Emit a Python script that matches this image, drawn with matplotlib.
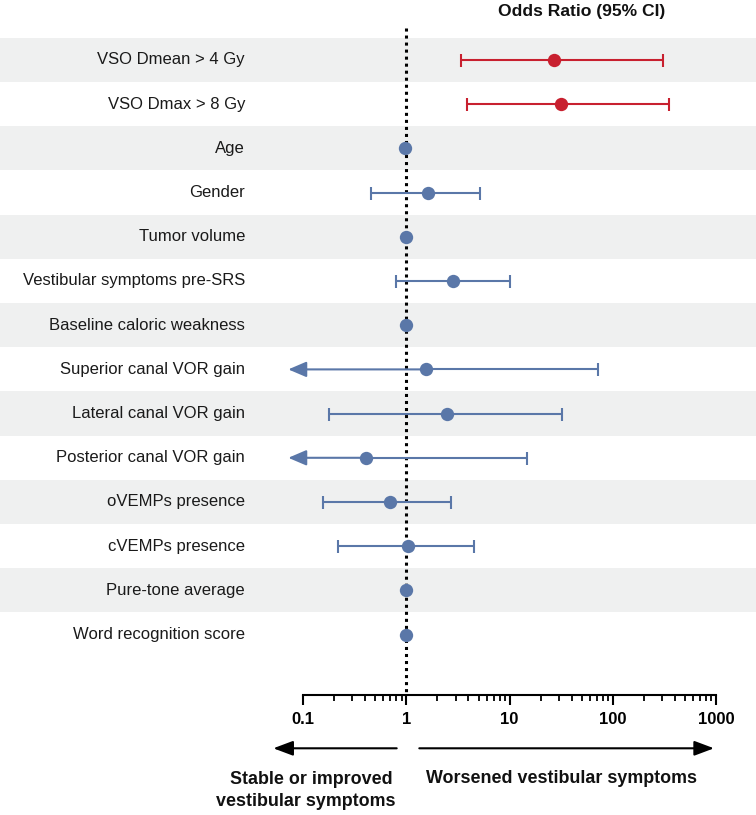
import numpy as np
import matplotlib
matplotlib.use("Agg")
import matplotlib.pyplot as plt
import matplotlib.ticker as mticker
import matplotlib.transforms as mtransforms

plt.rcParams['font.family'] = ['Liberation Sans', 'DejaVu Sans']

labels = ["VSO Dmean > 4 Gy", "VSO Dmax > 8 Gy", "Age", "Gender", "Tumor volume",
          "Vestibular symptoms pre-SRS", "Baseline caloric weakness",
          "Superior canal VOR gain", "Lateral canal VOR gain",
          "Posterior canal VOR gain", "oVEMPs presence", "cVEMPs presence",
          "Pure-tone average", "Word recognition score"]
odds = [26.9, 31.7, 0.98, 1.61, 1.0, 2.83, 1.0, 1.55, 2.46, 0.405, 0.70, 1.05, 1.0, 0.99]
ci_low = [3.38, 3.87, np.nan, 0.455, np.nan, 0.795, np.nan, np.nan, 0.179, np.nan,
          0.157, 0.218, np.nan, np.nan]
ci_high = [303, 349, np.nan, 5.2, np.nan, 10.1, np.nan, 71.8, 31.9, 14.8,
           2.73, 4.55, np.nan, np.nan]
highlight = [True, True] + [False] * 12
tick_vals = [0.1, 1, 10, 100, 1000]
tick_labels = ["0.1", "1", "10", "100", "1000"]

RED = "#C8202F"
BLUE = "#5A77A8"
BAND = "#EFF0F0"

W, H = 756, 815
fig = plt.figure(figsize=(W / 100, H / 100), dpi=100)
ax = fig.add_axes([0, 0, 1, 1])

# pixel mapping helpers (layout only)
x1_px, dec_px = 406.3, 103.3
y0_px, row_px = 60.0, 44.2
def lx(px):
    return 10 ** ((px - x1_px) / dec_px)
def ry(px):
    return (px - y0_px) / row_px

ax.set_xscale('log')
ax.set_xlim(lx(0), lx(W))
ax.set_ylim(ry(H), ry(0))

n = len(labels)
for i in range(n):
    if i % 2 == 0:
        ax.axhspan(i - 0.5, i + 0.5, color=BAND, lw=0, zorder=0)

axis_y = ry(695)
ax.vlines(1, ry(28), axis_y, colors='black', linestyles=(0, (1, 1.3)), lw=2.2, zorder=2)

arrow_tip = lx(288.3)
for i in range(n):
    c = RED if highlight[i] else BLUE
    lo, hi, v = ci_low[i], ci_high[i], odds[i]
    if not np.isnan(hi):
        if np.isnan(lo):
            ax.errorbar([v], [i], xerr=[[0], [hi - v]], fmt='none', ecolor=c,
                        elinewidth=1.5, capsize=6.5 * 0.72, capthick=1.5, zorder=3)
            ax.annotate('', xy=(arrow_tip, i), xytext=(v, i),
                        arrowprops=dict(arrowstyle='-|>,head_length=1.1,head_width=0.47',
                                        color=c, lw=1.5, shrinkA=0, shrinkB=0),
                        zorder=3)
        else:
            ax.errorbar([v], [i], xerr=[[v - lo], [hi - v]], fmt='none', ecolor=c,
                        elinewidth=1.5, capsize=6.5 * 0.72, capthick=1.5, zorder=3)
    ax.plot([v], [i], 'o', color=c, ms=9.6, mec='none', zorder=4)

ylab_tr = mtransforms.blended_transform_factory(ax.transAxes, ax.transData)
for i, lab in enumerate(labels):
    ax.text(245 / W, i, lab, transform=ylab_tr, ha='right', va='center',
            fontsize=12.0, color='#1a1a1a')

# x axis
for s in ['top', 'right', 'left']:
    ax.spines[s].set_visible(False)
ax.spines['bottom'].set_position(('data', axis_y))
ax.spines['bottom'].set_bounds(0.1, 1000)
ax.spines['bottom'].set_linewidth(1.5)
ax.xaxis.set_major_locator(mticker.FixedLocator(tick_vals))
ax.xaxis.set_major_formatter(mticker.FixedFormatter(tick_labels))
minor = [m * d for d in tick_vals[:-1] for m in range(2, 10)]
ax.xaxis.set_minor_locator(mticker.FixedLocator(minor))
ax.xaxis.set_minor_formatter(mticker.NullFormatter())
ax.tick_params(axis='x', which='major', direction='out', length=7, width=1.5,
               labelsize=12, pad=5)
ax.tick_params(axis='x', which='minor', direction='out', length=4, width=1.3)
for t in ax.get_xticklabels():
    t.set_fontweight('bold')
ax.set_yticks([])

# direction arrows
arr_y = ry(748.3)
ax.annotate('', xy=(lx(273.3), arr_y), xytext=(lx(396.7), arr_y),
            arrowprops=dict(arrowstyle='-|>,head_length=1.2,head_width=0.45',
                            color='black', lw=1.5, shrinkA=0, shrinkB=0))
ax.annotate('', xy=(lx(714), arr_y), xytext=(lx(419.3), arr_y),
            arrowprops=dict(arrowstyle='-|>,head_length=1.2,head_width=0.45',
                            color='black', lw=1.5, shrinkA=0, shrinkB=0))
ax.text(lx(561.7), ry(779), "Worsened vestibular symptoms", ha='center', va='center',
        fontsize=12.9, fontweight='bold', color='#111111')
ax.text(lx(393), ry(780), "Stable or improved", ha='right',
        va='center', fontsize=12.9, fontweight='bold', color='#111111')
ax.text(lx(395), ry(802), "vestibular symptoms", ha='right',
        va='center', fontsize=12.9, fontweight='bold', color='#111111')

ax.text(lx(582), ry(12), "Odds Ratio (95% CI)", ha='center', va='center',
        fontsize=12.6, fontweight='bold', color='#111111')

fig.savefig("out.png", dpi=100)
